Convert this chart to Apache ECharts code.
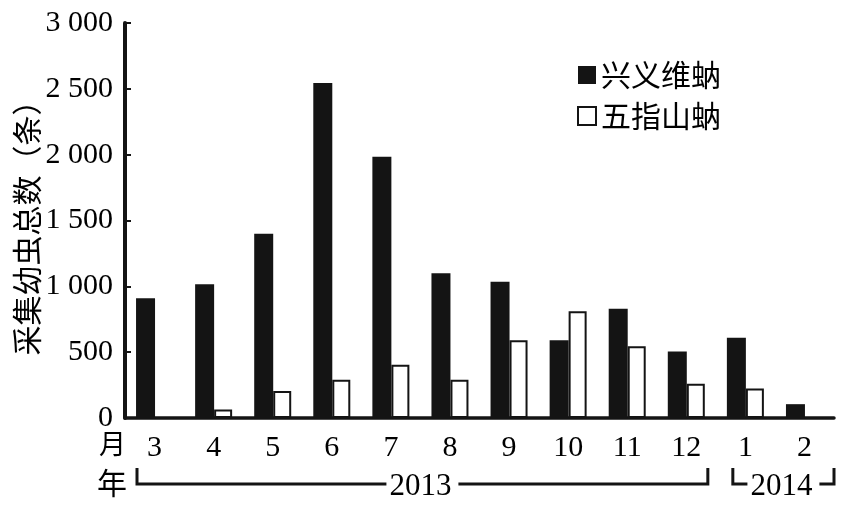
<!DOCTYPE html>
<html><head><meta charset="utf-8">
<script src="https://cdn.jsdelivr.net/npm/echarts@6/dist/echarts.min.js"></script>
<style>html,body{margin:0;padding:0;background:#fff}#c{width:847px;height:512px}</style>
</head><body><div id="c"></div>
<script>
const months = ['3','4','5','6','7','8','9','10','11','12','1','2'];
const xingyi = [910, 1015, 1400, 2545, 1985, 1100, 1035, 590, 830, 505, 610, 105];
const wuzhishan = [0, 65, 205, 290, 405, 290, 590, 810, 545, 260, 225, 0];
const yearGroups = [{label:'2013', from:0, to:9}, {label:'2014', from:10, to:11}];
const seriesNames = ['兴义维蚋', '五指山蚋'];
const yTicks = [0, 500, 1000, 1500, 2000, 2500, 3000];

const INK = '#141414';
const SERIF = '"Liberation Serif","Times New Roman",serif';
const CJK = '"Noto Sans CJK SC","Noto Sans",sans-serif';

const chart = echarts.init(document.getElementById('c'));
chart.setOption({
  animation: false,
  backgroundColor: '#fff',
  grid: {left: 125, right: 13, top: 23, bottom: 94, outerBoundsMode: 'none', containLabel: false},
  legend: {
    orient: 'vertical', left: 572, top: 55, itemWidth: 18, itemHeight: 18, itemGap: 11,
    icon: 'rect',
    textStyle: {fontFamily: CJK, fontSize: 30, color: '#000'},
    data: [
      {name: seriesNames[0], itemStyle: {color: INK, borderWidth: 0}},
      {name: seriesNames[1], itemStyle: {color: '#fff', borderColor: INK, borderWidth: 2}}
    ]
  },
  xAxis: {
    type: 'category', data: months,
    axisLine: {lineStyle: {color: INK, width: 3.5}},
    axisTick: {inside: true, length: 6, lineStyle: {color: INK, width: 2}},
    axisLabel: {fontFamily: SERIF, fontSize: 30, color: '#000', margin: 15}
  },
  yAxis: {
    type: 'value', min: yTicks[0], max: yTicks[yTicks.length-1], interval: 500,
    name: '采集幼虫总数（条）', nameLocation: 'middle', nameGap: 83, nameMoveOverlap: false,
    nameTextStyle: {fontFamily: CJK, fontSize: 30, color: '#000'},
    axisLine: {show: true, lineStyle: {color: INK, width: 4}},
    axisTick: {show: true, inside: true, length: 6, lineStyle: {color: INK, width: 2}},
    splitLine: {show: false},
    axisLabel: {fontFamily: SERIF, fontSize: 30, color: '#000', margin: 12,
      formatter: v => v >= 1000 ? Math.floor(v/1000) + ' ' + String(v%1000).padStart(3,'0') : String(v)}
  },
  series: [
    {name: seriesNames[0], type: 'bar', data: xingyi, barWidth: 19, barGap: '0%',
     itemStyle: {color: INK}},
    {name: seriesNames[1], type: 'bar', data: wuzhishan, barWidth: 18, barGap: '0%',
     itemStyle: {color: '#fff', borderColor: INK, borderWidth: 2}}
  ]
});

// annotations: month/year row labels and year brackets positioned from the axis scale
const c0 = chart.convertToPixel({xAxisIndex: 0}, 0);
const c1 = chart.convertToPixel({xAxisIndex: 0}, 1);
const band = c1 - c0;
const y0 = chart.convertToPixel({yAxisIndex: 0}, 0);
const lineY = y0 + 66;
const tickTop = lineY - 16;
const g = [];
const axisLeft = c0 - band/2;
g.push({type:'text', left: axisLeft - 26, top: y0 + 12, style:{text:'月', font:'27px ' + CJK, fill:'#000'}});
g.push({type:'text', left: axisLeft - 28, top: lineY - 16, style:{text:'年', font:'30px ' + CJK, fill:'#000'}});
const insets = [[12, 8], [17, 0]];
yearGroups.forEach((yg, i) => {
  const xl = chart.convertToPixel({xAxisIndex:0}, yg.from) - band/2 + insets[i][0];
  const xr = chart.convertToPixel({xAxisIndex:0}, yg.to) + band/2 - insets[i][1];
  const xm = (xl + xr) / 2;
  const half = 36;
  g.push({type:'polyline', shape:{points:[[xl, tickTop],[xl, lineY],[xm-half, lineY]]}, style:{stroke:INK, lineWidth:3, fill:null}});
  g.push({type:'polyline', shape:{points:[[xm+half, lineY],[xr, lineY],[xr, tickTop]]}, style:{stroke:INK, lineWidth:3, fill:null}});
  g.push({type:'text', x: xm - 2, y: lineY + 3, style:{text: yg.label, font:'31px ' + SERIF, fill:'#000', align:'center', verticalAlign:'middle'}});
});
chart.setOption({graphic: g});
</script>
</body></html>
